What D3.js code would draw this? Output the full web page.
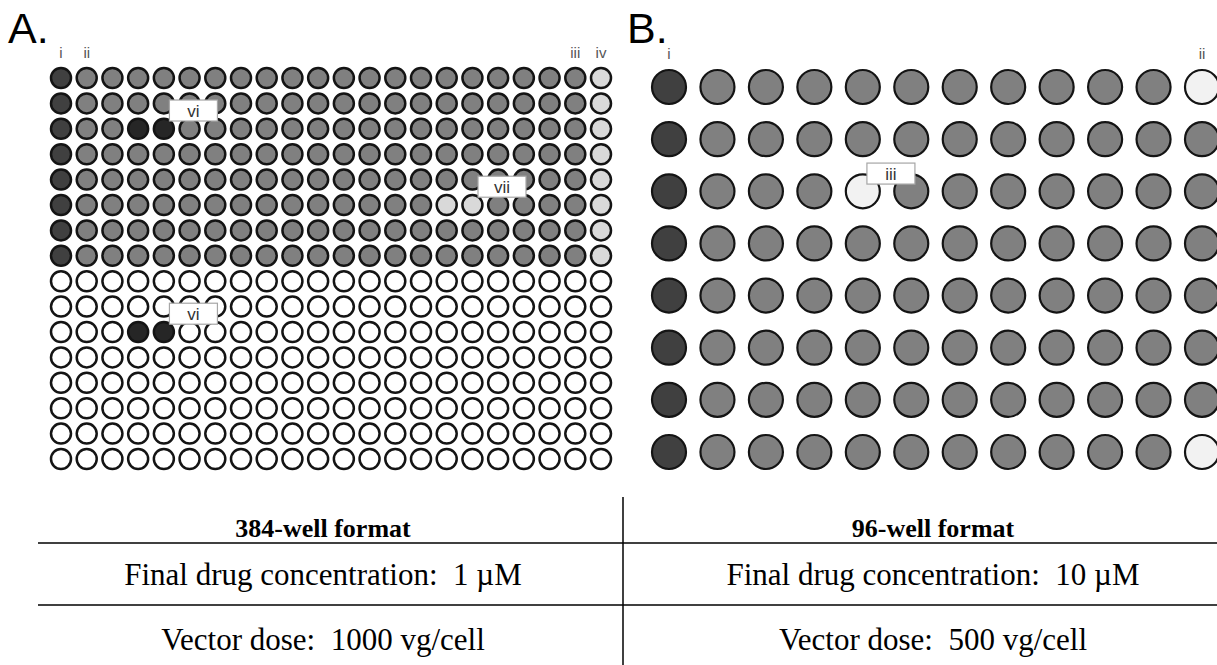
<!DOCTYPE html>
<html>
<head>
<meta charset="utf-8">
<script src="https://cdn.jsdelivr.net/npm/d3@7"></script>
<style>
  html, body { margin: 0; padding: 0; background: #fff; }
  svg { display: block; }
</style>
</head>
<body>
<svg id="fig" width="1217" height="665"></svg>
<script>
// ---- plate layouts: one string per row, one code per well ----
// D = positive control, G = test well, X = reference compound,
// L = negative control, W = mock / empty, E = unused well
const plateARows = [
  "DGGGGGGGGGGGGGGGGGGGGL",
  "DGGGGGGGGGGGGGGGGGGGGL",
  "DGGXXGGGGGGGGGGGGGGGGL",
  "DGGGGGGGGGGGGGGGGGGGGL",
  "DGGGGGGGGGGGGGGGGGGGGL",
  "DGGGGGGGGGGGGGGLLGGGGL",
  "DGGGGGGGGGGGGGGGGGGGGL",
  "DGGGGGGGGGGGGGGGGGGGGL",
  "EEEEEEEEEEEEEEEEEEEEEE",
  "EEEEEEEEEEEEEEEEEEEEEE",
  "EEEXXEEEEEEEEEEEEEEEEE",
  "EEEEEEEEEEEEEEEEEEEEEE",
  "EEEEEEEEEEEEEEEEEEEEEE",
  "EEEEEEEEEEEEEEEEEEEEEE",
  "EEEEEEEEEEEEEEEEEEEEEE",
  "EEEEEEEEEEEEEEEEEEEEEE"
];
const plateBRows = [
  "DGGGGGGGGGGW",
  "DGGGGGGGGGGG",
  "DGGGWGGGGGGG",
  "DGGGGGGGGGGG",
  "DGGGGGGGGGGG",
  "DGGGGGGGGGGG",
  "DGGGGGGGGGGG",
  "DGGGGGGGGGGW"
];

// column labels above the plates: [label, column index]
const colLabelsA = [["i", 0], ["ii", 1], ["iii", 20], ["iv", 21]];
const colLabelsB = [["i", 0], ["ii", 11]];

// boxed callouts: [label, row, column] of the well each one tags
const calloutsA = [["vi", 2, 4], ["vii", 5, 16], ["vi", 10, 4]];
const calloutsB = [["iii", 2, 4]];

// table contents
const formats = ["384-well format", "96-well format"];
const concentrations = ["1 µM", "10 µM"];
const doses = ["1000 vg/cell", "500 vg/cell"];

const fillA = d3.scaleOrdinal()
  .domain(["D", "G", "X", "L", "E"])
  .range(["#404040", "#808080", "#262626", "#d9d9d9", "#ffffff"]);
const fillB = d3.scaleOrdinal()
  .domain(["D", "G", "W"])
  .range(["#404040", "#808080", "#f2f2f2"]);

const svg = d3.select("#fig");
const sans = "'Liberation Sans', Arial, sans-serif";
const serif = "'Liberation Serif', 'Times New Roman', serif";

function drawPlate(g, rows, cfg) {
  const nCols = rows[0].length;
  const x = d3.scalePoint().domain(d3.range(nCols)).range(cfg.xRange);
  const y = d3.scalePoint().domain(d3.range(rows.length)).range(cfg.yRange);
  const wells = rows.flatMap((r, ri) =>
    r.split("").map((code, ci) => ({ row: ri, col: ci, code })));

  g.selectAll("circle.well")
    .data(wells)
    .join("circle")
    .attr("class", "well")
    .attr("cx", d => x(d.col))
    .attr("cy", d => y(d.row))
    .attr("r", cfg.r)
    .attr("fill", d => cfg.fill(d.code))
    .attr("stroke", "#141414")
    .attr("stroke-width", cfg.sw);

  g.selectAll("text.col-label")
    .data(cfg.colLabels)
    .join("text")
    .attr("class", "col-label")
    .attr("x", d => x(d[1]))
    .attr("y", cfg.labelY)
    .attr("text-anchor", "middle")
    .attr("font-family", sans)
    .attr("font-size", 15)
    .attr("fill", "#555")
    .text(d => d[0]);

  const step = x.step(), rstep = y.step();
  const co = g.selectAll("g.callout")
    .data(cfg.callouts)
    .join("g")
    .attr("class", "callout")
    .attr("transform", d =>
      `translate(${x(d[2]) + step * cfg.dx},${y(d[1]) + rstep * cfg.dy})`);
  co.append("rect")
    .attr("x", -24).attr("y", -11)
    .attr("width", 48).attr("height", 21)
    .attr("fill", "#fff")
    .attr("stroke", "#a6a6a6")
    .attr("stroke-width", 1.2);
  co.append("text")
    .attr("y", 6)
    .attr("text-anchor", "middle")
    .attr("font-family", sans)
    .attr("font-size", 17)
    .attr("fill", "#333")
    .text(d => d[0]);
}

// panel letters
svg.append("text").attr("x", 8).attr("y", 43)
  .attr("font-family", sans).attr("font-size", 43).attr("fill", "#000").text("A.");
svg.append("text").attr("x", 627).attr("y", 43)
  .attr("font-family", sans).attr("font-size", 43).attr("fill", "#000").text("B.");

drawPlate(svg.append("g"), plateARows, {
  xRange: [61, 601], yRange: [78, 459], r: 10, sw: 2.5,
  fill: fillA, colLabels: colLabelsA, labelY: 58,
  callouts: calloutsA, dx: 1.15, dy: -0.7
});
drawPlate(svg.append("g"), plateBRows, {
  xRange: [669, 1202], yRange: [87, 452], r: 17, sw: 2.2,
  fill: fillB, colLabels: colLabelsB, labelY: 59,
  callouts: calloutsB, dx: 0.58, dy: -0.33
});

// ---- summary table ----
const tcol = d3.scaleOrdinal().domain(formats).range([323, 933]);
const table = svg.append("g");
table.append("line")
  .attr("x1", 623).attr("x2", 623).attr("y1", 497).attr("y2", 665)
  .attr("stroke", "#000").attr("stroke-width", 1.5);
[543, 605].forEach(yy => table.append("line")
  .attr("x1", 38).attr("x2", 1217).attr("y1", yy).attr("y2", yy)
  .attr("stroke", "#000").attr("stroke-width", 1.5));

table.selectAll("text.hdr").data(formats).join("text")
  .attr("class", "hdr")
  .attr("x", d => tcol(d)).attr("y", 537)
  .attr("text-anchor", "middle")
  .attr("font-family", serif).attr("font-weight", "bold").attr("font-size", 26)
  .text(d => d);
table.selectAll("text.conc").data(formats).join("text")
  .attr("class", "conc")
  .attr("x", d => tcol(d)).attr("y", 585)
  .attr("text-anchor", "middle")
  .attr("font-family", serif).attr("font-size", 31)
  .style("white-space", "pre")
  .text((d, i) => "Final drug concentration:  " + concentrations[i]);
table.selectAll("text.dose").data(formats).join("text")
  .attr("class", "dose")
  .attr("x", d => tcol(d)).attr("y", 650)
  .attr("text-anchor", "middle")
  .attr("font-family", serif).attr("font-size", 31)
  .style("white-space", "pre")
  .text((d, i) => "Vector dose:  " + doses[i]);
</script>
</body>
</html>
